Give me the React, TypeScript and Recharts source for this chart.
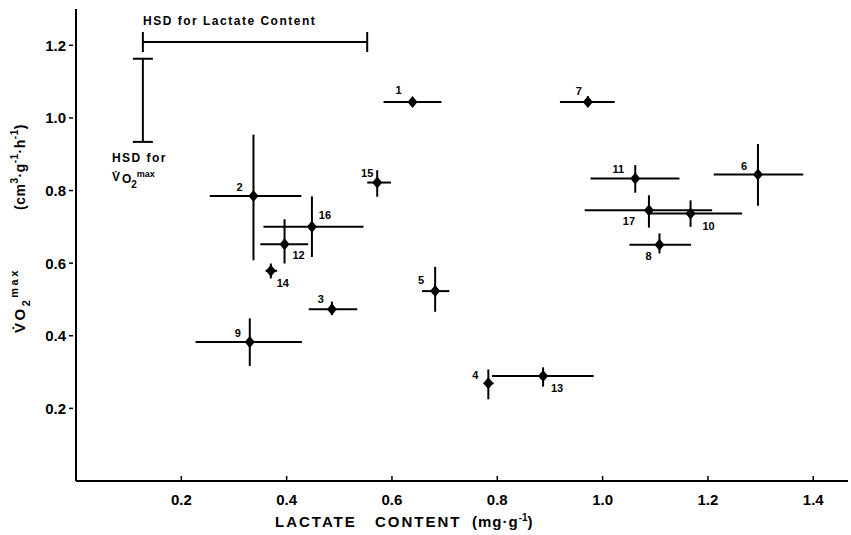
import { ScatterChart, Scatter, XAxis, YAxis, ErrorBar, Label } from "recharts";

const subjects = [1, 2, 3, 4, 5, 6, 7, 8, 9, 10, 11, 12, 13, 14, 15, 16, 17];

// lactate content (mg/g) - mean and range
const lactate = [0.639, 0.337, 0.486, 0.783, 0.682, 1.295, 0.972, 1.108, 0.33, 1.167, 1.062, 0.396, 0.887, 0.37, 0.572, 0.448, 1.088];
const lactateLow = [0.584, 0.254, 0.442, 0.774, 0.657, 1.211, 0.919, 1.051, 0.227, 1.085, 0.977, 0.35, 0.79, 0.36, 0.553, 0.356, 0.966];
const lactateHigh = [0.694, 0.428, 0.534, 0.793, 0.709, 1.381, 1.023, 1.168, 0.429, 1.265, 1.146, 0.441, 0.983, 0.382, 0.598, 0.546, 1.208];

// VO2max (cm3/g/h)
const vo2 = [1.044, 0.785, 0.473, 0.269, 0.523, 0.844, 1.044, 0.651, 0.383, 0.737, 0.833, 0.652, 0.289, 0.579, 0.822, 0.7, 0.746];
const vo2Low = [1.036, 0.608, 0.457, 0.225, 0.466, 0.758, 1.034, 0.627, 0.317, 0.7, 0.794, 0.599, 0.26, 0.558, 0.783, 0.617, 0.698];
const vo2High = [1.052, 0.954, 0.494, 0.307, 0.59, 0.928, 1.06, 0.682, 0.448, 0.773, 0.87, 0.721, 0.313, 0.599, 0.856, 0.784, 0.787];

// honestly significant differences
const hsdLactate = [0.127, 0.553];
const hsdLactateY = 1.209;
const hsdVo2 = [0.934, 1.163];
const hsdVo2X = 0.127;

const xTicks = [0.2, 0.4, 0.6, 0.8, 1.0, 1.2, 1.4];
const yTicks = [0.2, 0.4, 0.6, 0.8, 1.0, 1.2];

// where each subject number sits around its diamond
const labelOffset: Record<number, [number, number]> = {
  1: [-14, -12], 2: [-14, -9], 3: [-11, -10], 4: [-13, -8], 5: [-14, -11],
  6: [-14, -9], 7: [-9, -11], 8: [-11, 11], 9: [-12, -9], 10: [18, 13],
  11: [-17, -10], 12: [14, 11], 13: [14, 12], 14: [12, 12], 15: [-10, -10],
  16: [13, -12], 17: [-20, 11],
};

const points = subjects.map((id, i) => ({
  id,
  x: lactate[i],
  y: vo2[i],
  ex: [lactate[i] - lactateLow[i], lactateHigh[i] - lactate[i]],
  ey: [vo2[i] - vo2Low[i], vo2High[i] - vo2[i]],
}));

const hsdX = [{
  x: (hsdLactate[0] + hsdLactate[1]) / 2,
  y: hsdLactateY,
  ex: (hsdLactate[1] - hsdLactate[0]) / 2,
}];
const hsdY = [{
  x: hsdVo2X,
  y: (hsdVo2[0] + hsdVo2[1]) / 2,
  ey: (hsdVo2[1] - hsdVo2[0]) / 2,
}];

const FONT = "'Liberation Sans', Arial, sans-serif";

const Diamond = (props: any) => {
  const { cx, cy, payload } = props;
  const [dx, dy] = labelOffset[payload.id] || [10, -10];
  return (
    <g>
      <polygon
        points={`${cx},${cy - 6} ${cx + 5},${cy} ${cx},${cy + 6} ${cx - 5},${cy}`}
        fill="#000"
      />
      <text
        x={cx + dx}
        y={cy + dy}
        textAnchor="middle"
        dominantBaseline="central"
        fontSize={11}
        fontWeight="bold"
        fontFamily={FONT}
        fill="#000"
      >
        {payload.id}
      </text>
    </g>
  );
};

const HsdXLabel = (props: any) => {
  const { cx, cy } = props;
  return (
    <text x={cx - 112} y={cy - 17} fontSize={12} fontWeight="bold" fontFamily={FONT} letterSpacing={1.5} fill="#000">
      HSD for Lactate Content
    </text>
  );
};

const HsdYLabel = (props: any) => {
  const { cx, cy } = props;
  return (
    <g fontSize={12} fontWeight="bold" fontFamily={FONT} fill="#000">
      <text x={cx - 31} y={cy + 62} letterSpacing={1.5}>HSD for</text>
      <text x={cx - 31} y={cy + 81}>
        <tspan>V̇</tspan>
        <tspan dx={2} dy={2}>O</tspan>
        <tspan fontSize={10} dy={5}>2</tspan>
        <tspan fontSize={9} dy={-11}>max</tspan>
      </text>
    </g>
  );
};

const XTick = (props: any) => {
  const { x, y, payload } = props;
  return (
    <g>
      <line x1={x} x2={x} y1={y} y2={y - 5} stroke="#000" strokeWidth={1.5} />
      <text x={x} y={y + 24} textAnchor="middle" fontSize={15} fontWeight="bold" fontFamily={FONT} fill="#000">
        {payload.value.toFixed(1)}
      </text>
    </g>
  );
};

const YTick = (props: any) => {
  const { x, y, payload } = props;
  return (
    <g>
      <line x1={x - 3} x2={x - 7} y1={y} y2={y} stroke="#000" strokeWidth={1.5} />
      <text x={x - 10} y={y} textAnchor="end" dominantBaseline="central" fontSize={15} fontWeight="bold" fontFamily={FONT} fill="#000">
        {payload.value.toFixed(1)}
      </text>
    </g>
  );
};

const YLabel = () => (
  <g transform="rotate(-90)" fontWeight="bold" fontFamily={FONT} fill="#000">
    <text x={-333} y={25} fontSize={15} letterSpacing={2.5}>
      <tspan>V̇O</tspan>
      <tspan fontSize={11} dy={5}>2</tspan>
      <tspan fontSize={11} dy={-12}>max</tspan>
    </text>
    <text x={-210} y={25} fontSize={14} letterSpacing={0.5}>
      <tspan>(cm</tspan>
      <tspan fontSize={10} dy={-7}>3</tspan>
      <tspan dy={7}>·g</tspan>
      <tspan fontSize={10} dy={-7}>-1</tspan>
      <tspan dy={7}>·h</tspan>
      <tspan fontSize={10} dy={-7}>-1</tspan>
      <tspan dy={7}>)</tspan>
    </text>
  </g>
);

const XLabel = () => (
  <text y={527} fontSize={15} fontWeight="bold" fontFamily={FONT} letterSpacing={2} fill="#000">
    <tspan x={275}>LACTATE</tspan>
    <tspan x={375}>CONTENT</tspan>
    <tspan x={472} letterSpacing={1}>(mg·g</tspan>
    <tspan fontSize={10} dy={-6} letterSpacing={0}>-1</tspan>
    <tspan dy={6}>)</tspan>
  </text>
);

export default function App() {
  return (
    <div style={{ position: "absolute", left: 0, top: 0, background: "#fff" }}>
      <ScatterChart width={851} height={535} margin={{ top: 9, right: 3, bottom: 0, left: 0 }}>
        <XAxis
          type="number"
          dataKey="x"
          domain={[0, 1.466]}
          ticks={xTicks}
          tickSize={0}
          tickMargin={0}
          tickLine={false}
          tick={<XTick />}
          height={54}
          axisLine={{ stroke: "#000", strokeWidth: 2 }}
          allowDataOverflow
        >
          <Label content={<XLabel />} />
        </XAxis>
        <YAxis
          type="number"
          dataKey="y"
          domain={[0, 1.3]}
          ticks={yTicks}
          tickSize={0}
          tickMargin={0}
          tickLine={false}
          tick={<YTick />}
          width={76}
          axisLine={{ stroke: "#000", strokeWidth: 2 }}
          allowDataOverflow
        >
          <Label content={<YLabel />} />
        </YAxis>

        <Scatter data={hsdX} shape={<HsdXLabel />} isAnimationActive={false}>
          <ErrorBar dataKey="ex" direction="x" width={10} stroke="#000" strokeWidth={2} />
        </Scatter>
        <Scatter data={hsdY} shape={<HsdYLabel />} isAnimationActive={false}>
          <ErrorBar dataKey="ey" direction="y" width={10} stroke="#000" strokeWidth={2} />
        </Scatter>

        <Scatter data={points} shape={<Diamond />} isAnimationActive={false}>
          <ErrorBar dataKey="ex" direction="x" width={0} stroke="#000" strokeWidth={2} />
          <ErrorBar dataKey="ey" direction="y" width={0} stroke="#000" strokeWidth={2} />
        </Scatter>
      </ScatterChart>
    </div>
  );
}
